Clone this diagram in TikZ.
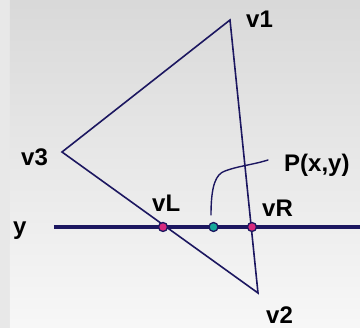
\documentclass[tikz,border=0pt]{standalone}
\usepackage{fontspec}
\setmainfont{Liberation Sans}
\usepackage{xcolor}
\usetikzlibrary{positioning}

\definecolor{navy}{HTML}{1C1760}
\definecolor{pinkdot}{HTML}{D62A7E}
\definecolor{tealdot}{HTML}{17A89A}

\begin{document}
\begin{tikzpicture}[
    x=1pt, y=-1pt,
    lbl/.style={anchor=base west, inner sep=0pt, font=\bfseries\fontsize{24}{24}\selectfont},
    edge/.style={draw=navy, line width=1.6pt, line join=miter},
    dot/.style={circle, draw=navy, line width=1.3pt, minimum size=9pt, inner sep=0pt}
]
\useasboundingbox (0,0) rectangle (360,328);
% background
\fill[black!9] (0,0) rectangle (10,328);
\shade[top color=black!15, bottom color=black!3] (10,0) rectangle (360,328);

% triangle corners
\coordinate (v1) at (230,20);
\coordinate (v2) at (258,293);
\coordinate (v3) at (62,152);
\draw[edge] (v1) -- (v2) -- (v3) -- cycle;

% scan line
\coordinate (ystart) at (54,227);
\coordinate (yend) at (360,227);
\draw[navy, line width=3.2pt] (ystart) -- (yend);

\node[dot, fill=pinkdot] (vL) at (163,227) {};
\node[dot, fill=tealdot] (P) at (213.5,227) {};
\node[dot, fill=pinkdot] (vR) at (252,227) {};

% labels
\node[lbl] (lv1) at (246,27.5) {v1};
\node[lbl] (lv2) at (266,323.5) {v2};
\node[lbl] (lv3) at (21,166) {v3};
\node[lbl] (ly) at (13,235) {y};
\node[lbl] (lvL) at (152,212) {vL};
\node[lbl] (lvR) at (262,216.5) {vR};
\node[lbl] (lP) at (284,172) {P(x,y)};

% leader to P
\coordinate (leadfoot) at (211,215);
\coordinate (lead) at (268,160);
\draw[navy, line width=1.4pt, line cap=round] (leadfoot)
    .. controls (211,185) and (216,174) .. (225,171)
    .. controls (238,166) and (252,165) .. (lead);
\end{tikzpicture}
\end{document}
